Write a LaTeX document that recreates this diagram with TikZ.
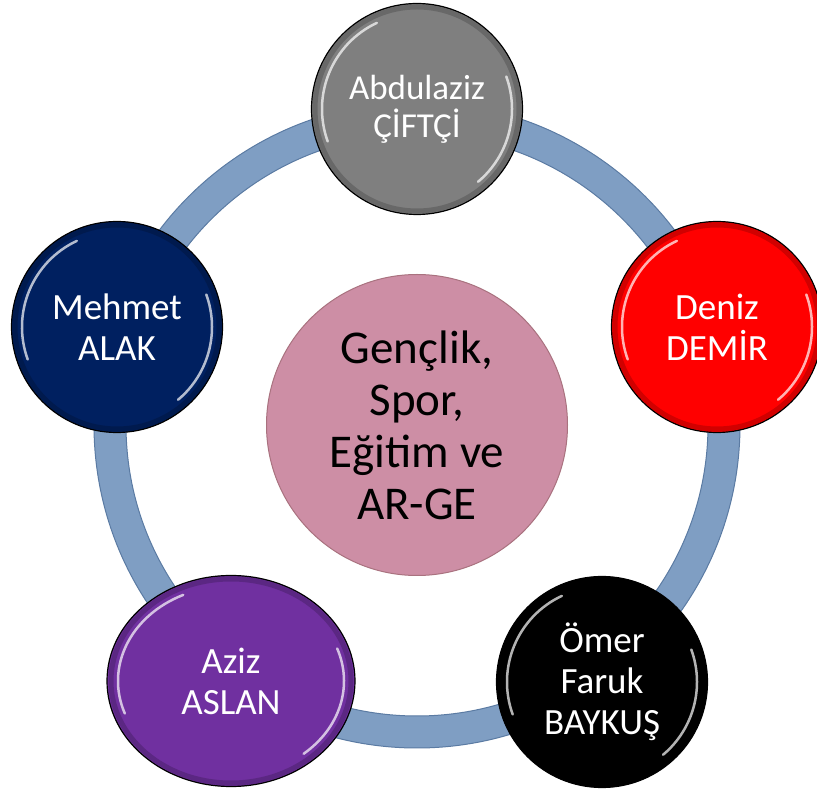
\documentclass[tikz,border=0pt]{standalone}
\usepackage{fontspec}
\setmainfont{Carlito}
\usetikzlibrary{shapes.geometric}
\definecolor{ringblue}{HTML}{7F9EC3}
\definecolor{ringedge}{HTML}{5B7BA3}
\definecolor{temapink}{HTML}{CD8EA5}
\definecolor{temaedge}{HTML}{A9727F}
\definecolor{lacivert}{HTML}{002060}
\definecolor{mor}{HTML}{7030A0}
\definecolor{gri}{HTML}{7F7F7F}

\begin{document}
\begin{tikzpicture}[x=1pt,y=1pt]
    \tikzstyle{member}=[circle,draw=black,line width=1.2pt,minimum size=211pt,inner sep=0pt,text=white,align=center,font=\fontsize{37}{41}\selectfont];
    \tikzstyle{tema}=[circle,draw=temaedge,line width=1pt,fill=temapink,minimum size=301pt,align=center,font=\fontsize{47}{52}\selectfont];
    \tikzstyle{ring}=[fill=ringblue,draw=ringedge,line width=1pt,even odd rule];
    \tikzstyle{gloss}=[white,line width=2.5pt,opacity=0.7,line cap=round];
    \tikzstyle{rim}=[black,line width=5pt,opacity=0.18];

    \useasboundingbox (0,0) rectangle (817,793);

    \node[tema] (konu) at (417,368) {Gençlik,\\Spor,\\Eğitim ve\\AR-GE};
    \draw[ring] (konu.center) circle (323) (konu.center) circle (291);

    \node[member,fill=gri,font=\fontsize{35}{38}\selectfont] (ciftci) at (417,684) {Abdulaziz\\ÇİFTÇİ};
    \node[member,fill=red] (demir) at (717,466) {Deniz\\DEMİR};
    \node[member,fill=black] (baykus) at (602,111) {Ömer\\Faruk\\BAYKUŞ};
    \node[member,ellipse,fill=mor,minimum width=248pt,minimum height=211pt] (aslan) at (231,112) {Aziz\\ASLAN};
    \node[member,fill=lacivert] (alak) at (117,466) {Mehmet\\ALAK};

    % parlaklik
    \foreach \n/\rx/\ry in {ciftci/104/104,demir/104/104,baykus/104/104,aslan/122/104,alak/104/104} {
        \draw[rim] (\n.center) ellipse ({\rx-2} and {\ry-2});
        \draw[gloss] ([shift={(115:{\rx-9} and {\ry-9})}]\n.center) arc[start angle=115,end angle=200,x radius=\rx-9,y radius=\ry-9];
        \draw[gloss] ([shift={(-50:{\rx-9} and {\ry-9})}]\n.center) arc[start angle=-50,end angle=20,x radius=\rx-9,y radius=\ry-9];
    }
\end{tikzpicture}
\end{document}
